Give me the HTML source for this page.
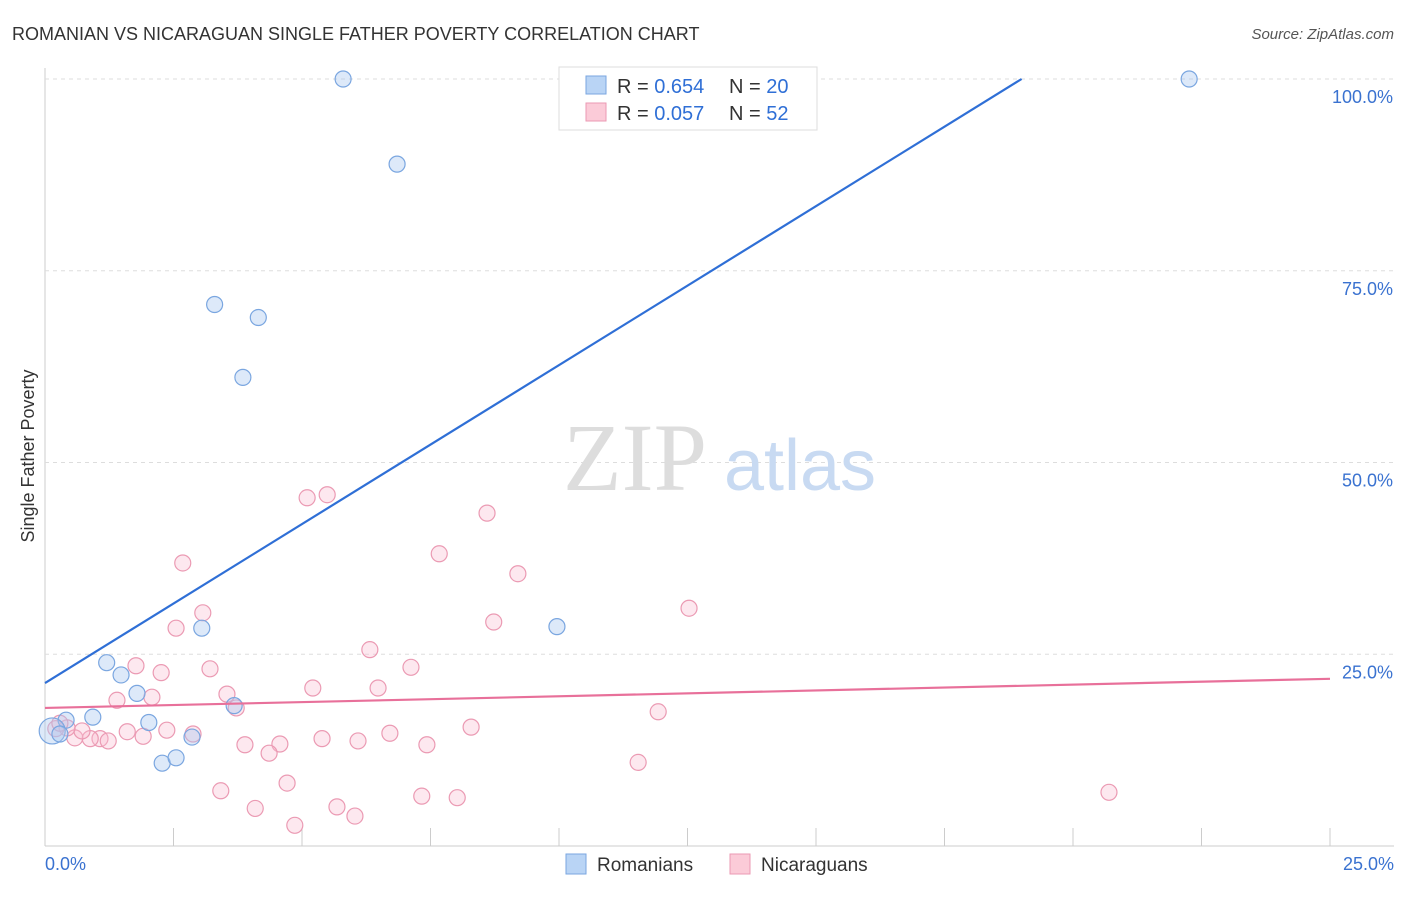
<!DOCTYPE html>
<html><head><meta charset="utf-8"><style>
body{margin:0;background:#fff;font-family:"Liberation Sans",sans-serif;}
svg text{font-family:"Liberation Sans",sans-serif;}
</style></head><body>
<svg width="1406" height="892" xmlns="http://www.w3.org/2000/svg">
<text x="12" y="40" font-size="18" fill="#333">ROMANIAN VS NICARAGUAN SINGLE FATHER POVERTY CORRELATION CHART</text>
<text x="1394" y="39" font-size="15" fill="#555" text-anchor="end" font-style="italic">Source: ZipAtlas.com</text>
<g id="grid"></g>
<text x="635" y="490" font-size="96" fill="#ddd" style="font-family:'Liberation Serif',serif" text-anchor="middle">ZIP</text>
<text x="800" y="490" font-size="72" fill="#c8daf2" text-anchor="middle">atlas</text>
<text x="34" y="456" font-size="18" fill="#333" text-anchor="middle" transform="rotate(-90 34 456)">Single Father Poverty</text>
<g id="pts"></g>
<g id="lines"></g>
<g>
<rect x="559" y="67" width="258" height="63" fill="#fff" stroke="#ddd"/>
<rect x="586" y="76" width="20" height="18" fill="#b9d4f5" stroke="#7aa6e0"/>
<rect x="586" y="103" width="20" height="18" fill="#fbcbd8" stroke="#eb9ab3"/>
<text x="617" y="93" font-size="20" fill="#333">R = <tspan fill="#2f6fd6">0.654</tspan></text>
<text x="729" y="93" font-size="20" fill="#333">N = <tspan fill="#2f6fd6">20</tspan></text>
<text x="617" y="120" font-size="20" fill="#333">R = <tspan fill="#2f6fd6">0.057</tspan></text>
<text x="729" y="120" font-size="20" fill="#333">N = <tspan fill="#2f6fd6"> 52</tspan></text>
</g>
<g>
<rect x="566" y="854" width="20" height="20" fill="#b9d4f5" stroke="#7aa6e0"/>
<text x="597" y="871" font-size="19" fill="#333">Romanians</text>
<rect x="730" y="854" width="20" height="20" fill="#fbcbd8" stroke="#eb9ab3"/>
<text x="761" y="871" font-size="19" fill="#333">Nicaraguans</text>
</g>
</svg>
<script>
const xTicks=[0,2.5,5,7.5,10,12.5,15,17.5,20,22.5,25];
const yTicks=[25,50,75,100];
const yTickLabels=["25.0%","50.0%","75.0%","100.0%"];
const romX=[5.8,6.85,3.3,4.15,3.85,3.05,9.96,1.2,1.48,1.79,3.68,0.93,0.41,2.02,2.86,2.28,2.55,0.14,22.26,0.29];
const romY=[100,88.9,70.6,68.9,61.1,28.4,28.6,23.9,22.3,19.9,18.3,16.8,16.4,16.1,14.2,10.8,11.5,15.0,100,14.6];
const nicX=[5.1,5.49,8.6,2.68,7.67,9.2,3.07,12.53,2.55,8.73,6.32,1.77,2.26,3.21,7.12,5.21,6.48,2.08,1.4,3.54,3.72,11.93,8.29,6.71,5.39,6.09,4.57,3.89,7.43,4.36,2.37,2.88,1.6,1.91,1.07,0.88,1.23,0.58,0.72,0.43,0.21,11.54,4.71,3.42,7.33,8.02,4.09,5.68,6.03,4.86,20.7,0.29];
const nicY=[45.4,45.8,43.4,36.9,38.1,35.5,30.4,31.0,28.4,29.2,25.6,23.5,22.6,23.1,23.3,20.6,20.6,19.4,19.0,19.8,18.0,17.5,15.5,14.7,14.0,13.7,13.3,13.2,13.2,12.1,15.1,14.6,14.9,14.3,14.0,14.0,13.7,14.1,15.0,15.4,15.3,10.9,8.2,7.2,6.5,6.3,4.9,5.1,3.9,2.7,7.0,16.0];
const romLine=[0,21.25,19.0,100];
const nicLine=[0,18.0,25,21.8];
const X=v=>45+v*51.4, Y=v=>846-v*7.67;
const NS="http://www.w3.org/2000/svg";
function mk(t,a,p){const e=document.createElementNS(NS,t);for(const k in a)e.setAttribute(k,a[k]);p.appendChild(e);return e;}
const g=document.getElementById('grid');
let ax=mk('line',{x1:45,y1:68,x2:45,y2:846,stroke:'#ccc'},g);


let bx=mk('line',{x1:45,y1:846,x2:1394,y2:846,stroke:'#ccc'},g);


yTicks.forEach((v,i)=>{
 let l=mk('line',{x1:45,y1:Y(v),x2:1394,y2:Y(v),stroke:'#ddd','stroke-dasharray':'4,4'},g);
 
 
 let t=mk('text',{x:1393,y:Y(v)+24,'font-size':18,fill:'#3a72d0','text-anchor':'end'},g);
 t.textContent=yTickLabels[i];
 
 
});
xTicks.forEach(v=>{
 let l=mk('line',{x1:X(v),y1:828,x2:X(v),y2:846,stroke:'#ccc'},g);
 
 
});
let t0=mk('text',{x:45,y:870,'font-size':18,fill:'#3a72d0'},g);t0.textContent='0.0%';


let t1=mk('text',{x:1394,y:870,'font-size':18,fill:'#3a72d0','text-anchor':'end'},g);t1.textContent='25.0%';


const p=document.getElementById('pts');
nicX.forEach((x,i)=>{
 let c=mk('circle',{cx:X(x),cy:Y(nicY[i]),r:8,fill:'rgba(248,190,208,0.35)',stroke:'#eb9ab3','stroke-width':1.2},p);
 
 
});
romX.forEach((x,i)=>{
 let c=mk('circle',{cx:X(x),cy:Y(romY[i]),r:i==17?13:8,fill:'rgba(170,200,240,0.4)',stroke:'#7aa6e0','stroke-width':1.2},p);
 
 
});
const L=document.getElementById('lines');
let rl=mk('line',{x1:X(romLine[0]),y1:Y(romLine[1]),x2:X(romLine[2]),y2:Y(romLine[3]),stroke:'#2f6fd6','stroke-width':2.2},L);


let nl=mk('line',{x1:X(nicLine[0]),y1:Y(nicLine[1]),x2:X(nicLine[2]),y2:Y(nicLine[3]),stroke:'#e8709a','stroke-width':2.2},L);


</script>
</body></html>
